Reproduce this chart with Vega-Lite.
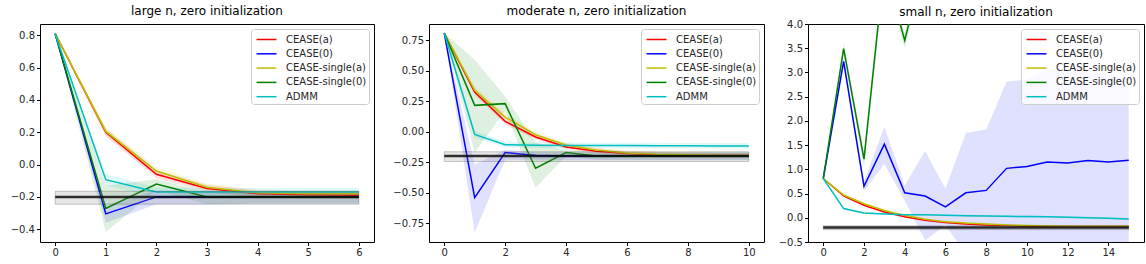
{
  "$schema": "https://vega.github.io/schema/vega-lite/v6.json",
  "padding": {"left": 0, "top": 4, "right": 0, "bottom": 0},
  "background": "white",
  "datasets": {
    "series": [
      {"p":1,"s":"CEASE(a)","x":0,"y":0.81,"lo":0.81,"hi":0.81},
      {"p":1,"s":"CEASE(a)","x":1,"y":0.2,"lo":0.175,"hi":0.225},
      {"p":1,"s":"CEASE(a)","x":2,"y":-0.06,"lo":-0.085,"hi":-0.035},
      {"p":1,"s":"CEASE(a)","x":3,"y":-0.148,"lo":-0.17,"hi":-0.125},
      {"p":1,"s":"CEASE(a)","x":4,"y":-0.18,"lo":-0.205,"hi":-0.16},
      {"p":1,"s":"CEASE(a)","x":5,"y":-0.186,"lo":-0.21,"hi":-0.165},
      {"p":1,"s":"CEASE(a)","x":6,"y":-0.19,"lo":-0.215,"hi":-0.17},
      {"p":1,"s":"CEASE(0)","x":0,"y":0.81,"lo":0.81,"hi":0.81},
      {"p":1,"s":"CEASE(0)","x":1,"y":-0.305,"lo":-0.36,"hi":-0.25},
      {"p":1,"s":"CEASE(0)","x":2,"y":-0.2,"lo":-0.245,"hi":-0.16},
      {"p":1,"s":"CEASE(0)","x":3,"y":-0.2,"lo":-0.245,"hi":-0.17},
      {"p":1,"s":"CEASE(0)","x":4,"y":-0.2,"lo":-0.24,"hi":-0.17},
      {"p":1,"s":"CEASE(0)","x":5,"y":-0.2,"lo":-0.24,"hi":-0.17},
      {"p":1,"s":"CEASE(0)","x":6,"y":-0.2,"lo":-0.24,"hi":-0.17},
      {"p":1,"s":"CEASE-single(a)","x":0,"y":0.81,"lo":0.81,"hi":0.81},
      {"p":1,"s":"CEASE-single(a)","x":1,"y":0.205,"lo":0.18,"hi":0.23},
      {"p":1,"s":"CEASE-single(a)","x":2,"y":-0.04,"lo":-0.065,"hi":-0.015},
      {"p":1,"s":"CEASE-single(a)","x":3,"y":-0.14,"lo":-0.16,"hi":-0.12},
      {"p":1,"s":"CEASE-single(a)","x":4,"y":-0.175,"lo":-0.2,"hi":-0.155},
      {"p":1,"s":"CEASE-single(a)","x":5,"y":-0.18,"lo":-0.2,"hi":-0.16},
      {"p":1,"s":"CEASE-single(a)","x":6,"y":-0.18,"lo":-0.2,"hi":-0.16},
      {"p":1,"s":"CEASE-single(0)","x":0,"y":0.81,"lo":0.81,"hi":0.81},
      {"p":1,"s":"CEASE-single(0)","x":1,"y":-0.272,"lo":-0.417,"hi":-0.13},
      {"p":1,"s":"CEASE-single(0)","x":2,"y":-0.12,"lo":-0.16,"hi":-0.09},
      {"p":1,"s":"CEASE-single(0)","x":3,"y":-0.2,"lo":-0.245,"hi":-0.17},
      {"p":1,"s":"CEASE-single(0)","x":4,"y":-0.2,"lo":-0.24,"hi":-0.17},
      {"p":1,"s":"CEASE-single(0)","x":5,"y":-0.2,"lo":-0.24,"hi":-0.17},
      {"p":1,"s":"CEASE-single(0)","x":6,"y":-0.2,"lo":-0.24,"hi":-0.17},
      {"p":1,"s":"ADMM","x":0,"y":0.81,"lo":0.81,"hi":0.81},
      {"p":1,"s":"ADMM","x":1,"y":-0.093,"lo":-0.13,"hi":-0.06},
      {"p":1,"s":"ADMM","x":2,"y":-0.17,"lo":-0.2,"hi":-0.14},
      {"p":1,"s":"ADMM","x":3,"y":-0.17,"lo":-0.195,"hi":-0.145},
      {"p":1,"s":"ADMM","x":4,"y":-0.17,"lo":-0.195,"hi":-0.145},
      {"p":1,"s":"ADMM","x":5,"y":-0.17,"lo":-0.195,"hi":-0.145},
      {"p":1,"s":"ADMM","x":6,"y":-0.17,"lo":-0.195,"hi":-0.145},

      {"p":2,"s":"CEASE(a)","x":0,"y":0.81,"lo":0.81,"hi":0.81},
      {"p":2,"s":"CEASE(a)","x":1,"y":0.326,"lo":0.3,"hi":0.35},
      {"p":2,"s":"CEASE(a)","x":2,"y":0.085,"lo":0.06,"hi":0.11},
      {"p":2,"s":"CEASE(a)","x":3,"y":-0.044,"lo":-0.065,"hi":-0.02},
      {"p":2,"s":"CEASE(a)","x":4,"y":-0.126,"lo":-0.145,"hi":-0.105},
      {"p":2,"s":"CEASE(a)","x":5,"y":-0.16,"lo":-0.18,"hi":-0.14},
      {"p":2,"s":"CEASE(a)","x":6,"y":-0.18,"lo":-0.2,"hi":-0.16},
      {"p":2,"s":"CEASE(a)","x":7,"y":-0.19,"lo":-0.21,"hi":-0.17},
      {"p":2,"s":"CEASE(a)","x":8,"y":-0.195,"lo":-0.215,"hi":-0.175},
      {"p":2,"s":"CEASE(a)","x":9,"y":-0.195,"lo":-0.215,"hi":-0.175},
      {"p":2,"s":"CEASE(a)","x":10,"y":-0.195,"lo":-0.215,"hi":-0.175},
      {"p":2,"s":"CEASE(0)","x":0,"y":0.81,"lo":0.81,"hi":0.81},
      {"p":2,"s":"CEASE(0)","x":1,"y":-0.542,"lo":-0.83,"hi":-0.27},
      {"p":2,"s":"CEASE(0)","x":2,"y":-0.172,"lo":-0.23,"hi":-0.15},
      {"p":2,"s":"CEASE(0)","x":3,"y":-0.195,"lo":-0.23,"hi":-0.17},
      {"p":2,"s":"CEASE(0)","x":4,"y":-0.2,"lo":-0.235,"hi":-0.17},
      {"p":2,"s":"CEASE(0)","x":5,"y":-0.2,"lo":-0.235,"hi":-0.17},
      {"p":2,"s":"CEASE(0)","x":6,"y":-0.2,"lo":-0.235,"hi":-0.17},
      {"p":2,"s":"CEASE(0)","x":7,"y":-0.2,"lo":-0.235,"hi":-0.17},
      {"p":2,"s":"CEASE(0)","x":8,"y":-0.2,"lo":-0.235,"hi":-0.17},
      {"p":2,"s":"CEASE(0)","x":9,"y":-0.2,"lo":-0.235,"hi":-0.17},
      {"p":2,"s":"CEASE(0)","x":10,"y":-0.2,"lo":-0.235,"hi":-0.17},
      {"p":2,"s":"CEASE-single(a)","x":0,"y":0.81,"lo":0.81,"hi":0.81},
      {"p":2,"s":"CEASE-single(a)","x":1,"y":0.34,"lo":0.31,"hi":0.37},
      {"p":2,"s":"CEASE-single(a)","x":2,"y":0.12,"lo":0.09,"hi":0.15},
      {"p":2,"s":"CEASE-single(a)","x":3,"y":-0.025,"lo":-0.05,"hi":0.0},
      {"p":2,"s":"CEASE-single(a)","x":4,"y":-0.11,"lo":-0.13,"hi":-0.09},
      {"p":2,"s":"CEASE-single(a)","x":5,"y":-0.15,"lo":-0.17,"hi":-0.13},
      {"p":2,"s":"CEASE-single(a)","x":6,"y":-0.175,"lo":-0.195,"hi":-0.155},
      {"p":2,"s":"CEASE-single(a)","x":7,"y":-0.186,"lo":-0.205,"hi":-0.165},
      {"p":2,"s":"CEASE-single(a)","x":8,"y":-0.19,"lo":-0.21,"hi":-0.17},
      {"p":2,"s":"CEASE-single(a)","x":9,"y":-0.195,"lo":-0.215,"hi":-0.175},
      {"p":2,"s":"CEASE-single(a)","x":10,"y":-0.195,"lo":-0.215,"hi":-0.175},
      {"p":2,"s":"CEASE-single(0)","x":0,"y":0.81,"lo":0.81,"hi":0.81},
      {"p":2,"s":"CEASE-single(0)","x":1,"y":0.216,"lo":-0.17,"hi":0.59},
      {"p":2,"s":"CEASE-single(0)","x":2,"y":0.23,"lo":0.17,"hi":0.29},
      {"p":2,"s":"CEASE-single(0)","x":3,"y":-0.3,"lo":-0.46,"hi":-0.09},
      {"p":2,"s":"CEASE-single(0)","x":4,"y":-0.172,"lo":-0.2,"hi":-0.15},
      {"p":2,"s":"CEASE-single(0)","x":5,"y":-0.2,"lo":-0.23,"hi":-0.17},
      {"p":2,"s":"CEASE-single(0)","x":6,"y":-0.2,"lo":-0.23,"hi":-0.17},
      {"p":2,"s":"CEASE-single(0)","x":7,"y":-0.2,"lo":-0.23,"hi":-0.17},
      {"p":2,"s":"CEASE-single(0)","x":8,"y":-0.2,"lo":-0.23,"hi":-0.17},
      {"p":2,"s":"CEASE-single(0)","x":9,"y":-0.2,"lo":-0.23,"hi":-0.17},
      {"p":2,"s":"CEASE-single(0)","x":10,"y":-0.2,"lo":-0.23,"hi":-0.17},
      {"p":2,"s":"ADMM","x":0,"y":0.81,"lo":0.81,"hi":0.81},
      {"p":2,"s":"ADMM","x":1,"y":-0.022,"lo":-0.05,"hi":0.005},
      {"p":2,"s":"ADMM","x":2,"y":-0.107,"lo":-0.13,"hi":-0.085},
      {"p":2,"s":"ADMM","x":3,"y":-0.112,"lo":-0.135,"hi":-0.09},
      {"p":2,"s":"ADMM","x":4,"y":-0.113,"lo":-0.136,"hi":-0.09},
      {"p":2,"s":"ADMM","x":5,"y":-0.114,"lo":-0.137,"hi":-0.091},
      {"p":2,"s":"ADMM","x":6,"y":-0.114,"lo":-0.137,"hi":-0.091},
      {"p":2,"s":"ADMM","x":7,"y":-0.115,"lo":-0.138,"hi":-0.092},
      {"p":2,"s":"ADMM","x":8,"y":-0.116,"lo":-0.139,"hi":-0.093},
      {"p":2,"s":"ADMM","x":9,"y":-0.117,"lo":-0.14,"hi":-0.094},
      {"p":2,"s":"ADMM","x":10,"y":-0.118,"lo":-0.141,"hi":-0.095},

      {"p":3,"s":"CEASE(a)","x":0,"y":0.81,"lo":0.81,"hi":0.81},
      {"p":3,"s":"CEASE(a)","x":1,"y":0.45,"lo":0.43,"hi":0.47},
      {"p":3,"s":"CEASE(a)","x":2,"y":0.26,"lo":0.24,"hi":0.28},
      {"p":3,"s":"CEASE(a)","x":3,"y":0.12,"lo":0.1,"hi":0.14},
      {"p":3,"s":"CEASE(a)","x":4,"y":0.02,"lo":0.0,"hi":0.04},
      {"p":3,"s":"CEASE(a)","x":5,"y":-0.05,"lo":-0.07,"hi":-0.03},
      {"p":3,"s":"CEASE(a)","x":6,"y":-0.1,"lo":-0.12,"hi":-0.08},
      {"p":3,"s":"CEASE(a)","x":7,"y":-0.13,"lo":-0.15,"hi":-0.11},
      {"p":3,"s":"CEASE(a)","x":8,"y":-0.15,"lo":-0.17,"hi":-0.13},
      {"p":3,"s":"CEASE(a)","x":9,"y":-0.16,"lo":-0.18,"hi":-0.14},
      {"p":3,"s":"CEASE(a)","x":10,"y":-0.17,"lo":-0.19,"hi":-0.15},
      {"p":3,"s":"CEASE(a)","x":11,"y":-0.18,"lo":-0.2,"hi":-0.16},
      {"p":3,"s":"CEASE(a)","x":12,"y":-0.18,"lo":-0.2,"hi":-0.16},
      {"p":3,"s":"CEASE(a)","x":13,"y":-0.18,"lo":-0.2,"hi":-0.16},
      {"p":3,"s":"CEASE(a)","x":14,"y":-0.18,"lo":-0.2,"hi":-0.16},
      {"p":3,"s":"CEASE(a)","x":15,"y":-0.18,"lo":-0.2,"hi":-0.16},
      {"p":3,"s":"CEASE(0)","x":0,"y":0.81,"lo":0.81,"hi":0.81},
      {"p":3,"s":"CEASE(0)","x":1,"y":3.23,"lo":3.15,"hi":3.31},
      {"p":3,"s":"CEASE(0)","x":2,"y":0.65,"lo":0.55,"hi":0.75},
      {"p":3,"s":"CEASE(0)","x":3,"y":1.52,"lo":1.11,"hi":1.88},
      {"p":3,"s":"CEASE(0)","x":4,"y":0.515,"lo":0.35,"hi":0.66},
      {"p":3,"s":"CEASE(0)","x":5,"y":0.45,"lo":-0.47,"hi":1.38},
      {"p":3,"s":"CEASE(0)","x":6,"y":0.225,"lo":-0.15,"hi":0.6},
      {"p":3,"s":"CEASE(0)","x":7,"y":0.515,"lo":-0.75,"hi":1.75},
      {"p":3,"s":"CEASE(0)","x":8,"y":0.565,"lo":-0.7,"hi":1.82},
      {"p":3,"s":"CEASE(0)","x":9,"y":1.02,"lo":-0.8,"hi":2.81},
      {"p":3,"s":"CEASE(0)","x":10,"y":1.06,"lo":-0.75,"hi":2.85},
      {"p":3,"s":"CEASE(0)","x":11,"y":1.15,"lo":-0.8,"hi":3.07},
      {"p":3,"s":"CEASE(0)","x":12,"y":1.13,"lo":-0.8,"hi":3.05},
      {"p":3,"s":"CEASE(0)","x":13,"y":1.18,"lo":-0.75,"hi":3.0},
      {"p":3,"s":"CEASE(0)","x":14,"y":1.15,"lo":-0.8,"hi":2.95},
      {"p":3,"s":"CEASE(0)","x":15,"y":1.19,"lo":-0.75,"hi":2.9},
      {"p":3,"s":"CEASE-single(a)","x":0,"y":0.81,"lo":0.81,"hi":0.81},
      {"p":3,"s":"CEASE-single(a)","x":1,"y":0.47,"lo":0.45,"hi":0.49},
      {"p":3,"s":"CEASE-single(a)","x":2,"y":0.29,"lo":0.27,"hi":0.31},
      {"p":3,"s":"CEASE-single(a)","x":3,"y":0.15,"lo":0.13,"hi":0.17},
      {"p":3,"s":"CEASE-single(a)","x":4,"y":0.05,"lo":0.03,"hi":0.07},
      {"p":3,"s":"CEASE-single(a)","x":5,"y":-0.03,"lo":-0.05,"hi":-0.01},
      {"p":3,"s":"CEASE-single(a)","x":6,"y":-0.08,"lo":-0.1,"hi":-0.06},
      {"p":3,"s":"CEASE-single(a)","x":7,"y":-0.11,"lo":-0.13,"hi":-0.09},
      {"p":3,"s":"CEASE-single(a)","x":8,"y":-0.13,"lo":-0.15,"hi":-0.11},
      {"p":3,"s":"CEASE-single(a)","x":9,"y":-0.15,"lo":-0.17,"hi":-0.13},
      {"p":3,"s":"CEASE-single(a)","x":10,"y":-0.16,"lo":-0.18,"hi":-0.14},
      {"p":3,"s":"CEASE-single(a)","x":11,"y":-0.17,"lo":-0.19,"hi":-0.15},
      {"p":3,"s":"CEASE-single(a)","x":12,"y":-0.175,"lo":-0.195,"hi":-0.155},
      {"p":3,"s":"CEASE-single(a)","x":13,"y":-0.175,"lo":-0.195,"hi":-0.155},
      {"p":3,"s":"CEASE-single(a)","x":14,"y":-0.175,"lo":-0.195,"hi":-0.155},
      {"p":3,"s":"CEASE-single(a)","x":15,"y":-0.175,"lo":-0.195,"hi":-0.155},
      {"p":3,"s":"CEASE-single(0)","x":0,"y":0.81,"lo":0.81,"hi":0.81},
      {"p":3,"s":"CEASE-single(0)","x":1,"y":3.49,"lo":3.38,"hi":3.6},
      {"p":3,"s":"CEASE-single(0)","x":2,"y":1.21,"lo":1.03,"hi":1.38},
      {"p":3,"s":"CEASE-single(0)","x":3,"y":5.2,"lo":5.0,"hi":5.4},
      {"p":3,"s":"CEASE-single(0)","x":4,"y":3.66,"lo":3.5,"hi":3.8},
      {"p":3,"s":"CEASE-single(0)","x":5,"y":5.36,"lo":5.2,"hi":5.5},
      {"p":3,"s":"ADMM","x":0,"y":0.81,"lo":0.81,"hi":0.81},
      {"p":3,"s":"ADMM","x":1,"y":0.19,"lo":0.17,"hi":0.21},
      {"p":3,"s":"ADMM","x":2,"y":0.1,"lo":0.08,"hi":0.12},
      {"p":3,"s":"ADMM","x":3,"y":0.08,"lo":0.06,"hi":0.1},
      {"p":3,"s":"ADMM","x":4,"y":0.065,"lo":0.045,"hi":0.085},
      {"p":3,"s":"ADMM","x":5,"y":0.06,"lo":0.04,"hi":0.08},
      {"p":3,"s":"ADMM","x":6,"y":0.05,"lo":0.03,"hi":0.07},
      {"p":3,"s":"ADMM","x":7,"y":0.04,"lo":0.02,"hi":0.06},
      {"p":3,"s":"ADMM","x":8,"y":0.035,"lo":0.015,"hi":0.055},
      {"p":3,"s":"ADMM","x":9,"y":0.03,"lo":0.01,"hi":0.05},
      {"p":3,"s":"ADMM","x":10,"y":0.025,"lo":0.005,"hi":0.045},
      {"p":3,"s":"ADMM","x":11,"y":0.02,"lo":0.0,"hi":0.04},
      {"p":3,"s":"ADMM","x":12,"y":0.01,"lo":-0.01,"hi":0.03},
      {"p":3,"s":"ADMM","x":13,"y":0.0,"lo":-0.02,"hi":0.02},
      {"p":3,"s":"ADMM","x":14,"y":-0.01,"lo":-0.03,"hi":0.01},
      {"p":3,"s":"ADMM","x":15,"y":-0.025,"lo":-0.045,"hi":-0.005}
    ],
    "truth": [
      {"p":1,"x0":0,"x1":6,"t":-0.2,"tlo":-0.245,"thi":-0.165},
      {"p":2,"x0":0,"x1":10,"t":-0.2,"tlo":-0.245,"thi":-0.165},
      {"p":3,"x0":0,"x1":15,"t":-0.2,"tlo":-0.245,"thi":-0.165}
    ]
  },
  "hconcat": [
    {
      "title": "large n, zero initialization",
      "width": 334, "height": 218,
      "encoding": {
        "x": {"field": "x", "type": "quantitative", "scale": {"domain": [-0.3, 6.3], "nice": false, "zero": false}, "axis": {"values": [0,1,2,3,4,5,6], "format": "d", "labelOverlap": false}},
        "y": {"field": "y", "type": "quantitative", "scale": {"domain": [-0.479, 0.87], "nice": false, "zero": false}, "axis": {"values": [-0.4,-0.2,0,0.2,0.4,0.6,0.8], "format": ".1f", "labelOverlap": false, "minExtent": 39, "maxExtent": 39}}
      },
      "layer": [
        {"data": {"name": "series"}, "transform": [{"filter": "datum.p == 1"}],
         "mark": {"type": "area", "opacity": 0.12},
         "encoding": {
           "y": {"field": "lo", "type": "quantitative"},
           "y2": {"field": "hi"},
           "color": {"field": "s", "type": "nominal", "scale": {"domain": ["CEASE(a)","CEASE(0)","CEASE-single(a)","CEASE-single(0)","ADMM"], "range": ["#ff0000","#0000ff","#bfbf00","#008000","#00bfbf"]}, "legend": {"title": null}}
         }},
        {"data": {"name": "series"}, "transform": [{"filter": "datum.p == 1"}],
         "mark": {"type": "line", "strokeWidth": 1.5},
         "encoding": {
           "color": {"field": "s", "type": "nominal", "legend": {"title": null}}
         }},
        {"data": {"name": "truth"}, "transform": [{"filter": "datum.p == 1"}],
         "mark": {"type": "rect", "fill": "gray", "fillOpacity": 0.2, "stroke": "black", "strokeOpacity": 0.2, "strokeWidth": 1},
         "encoding": {"x": {"field": "x0", "type": "quantitative"}, "x2": {"field": "x1"}, "y": {"field": "tlo", "type": "quantitative"}, "y2": {"field": "thi"}}},
        {"data": {"name": "truth"}, "transform": [{"filter": "datum.p == 1"}],
         "mark": {"type": "rule", "color": "black", "opacity": 0.8, "strokeWidth": 2.5},
         "encoding": {"x": {"field": "x0", "type": "quantitative"}, "x2": {"field": "x1"}, "y": {"field": "t", "type": "quantitative"}}}
      ]
    },
    {
      "title": "moderate n, zero initialization",
      "width": 335, "height": 218,
      "encoding": {
        "x": {"field": "x", "type": "quantitative", "scale": {"domain": [-0.5, 10.5], "nice": false, "zero": false}, "axis": {"values": [0,2,4,6,8,10], "format": "d", "labelOverlap": false}},
        "y": {"field": "y", "type": "quantitative", "scale": {"domain": [-0.906, 0.884], "nice": false, "zero": false}, "axis": {"values": [-0.75,-0.5,-0.25,0,0.25,0.5,0.75], "format": ".2f", "labelOverlap": false, "minExtent": 48, "maxExtent": 48}}
      },
      "layer": [
        {"data": {"name": "series"}, "transform": [{"filter": "datum.p == 2"}],
         "mark": {"type": "area", "opacity": 0.12},
         "encoding": {
           "y": {"field": "lo", "type": "quantitative"},
           "y2": {"field": "hi"},
           "color": {"field": "s", "type": "nominal", "scale": {"domain": ["CEASE(a)","CEASE(0)","CEASE-single(a)","CEASE-single(0)","ADMM"], "range": ["#ff0000","#0000ff","#bfbf00","#008000","#00bfbf"]}, "legend": {"title": null}}
         }},
        {"data": {"name": "series"}, "transform": [{"filter": "datum.p == 2"}],
         "mark": {"type": "line", "strokeWidth": 1.5},
         "encoding": {
           "color": {"field": "s", "type": "nominal", "legend": {"title": null}}
         }},
        {"data": {"name": "truth"}, "transform": [{"filter": "datum.p == 2"}],
         "mark": {"type": "rect", "fill": "gray", "fillOpacity": 0.2, "stroke": "black", "strokeOpacity": 0.2, "strokeWidth": 1},
         "encoding": {"x": {"field": "x0", "type": "quantitative"}, "x2": {"field": "x1"}, "y": {"field": "tlo", "type": "quantitative"}, "y2": {"field": "thi"}}},
        {"data": {"name": "truth"}, "transform": [{"filter": "datum.p == 2"}],
         "mark": {"type": "rule", "color": "black", "opacity": 0.8, "strokeWidth": 2.5},
         "encoding": {"x": {"field": "x0", "type": "quantitative"}, "x2": {"field": "x1"}, "y": {"field": "t", "type": "quantitative"}}}
      ]
    },
    {
      "title": {"text": "small n, zero initialization", "offset": 0},
      "width": 336, "height": 218,
      "encoding": {
        "x": {"field": "x", "type": "quantitative", "scale": {"domain": [-0.75, 15.75], "nice": false, "zero": false}, "axis": {"values": [0,2,4,6,8,10,12,14], "format": "d", "labelOverlap": false}},
        "y": {"field": "y", "type": "quantitative", "scale": {"domain": [-0.5, 4.0], "nice": false, "zero": false}, "axis": {"values": [-0.5,0,0.5,1,1.5,2,2.5,3,3.5,4], "format": ".1f", "labelOverlap": false, "minExtent": 37, "maxExtent": 37}}
      },
      "layer": [
        {"data": {"name": "series"}, "transform": [{"filter": "datum.p == 3"}],
         "mark": {"type": "area", "opacity": 0.12, "clip": true},
         "encoding": {
           "y": {"field": "lo", "type": "quantitative"},
           "y2": {"field": "hi"},
           "color": {"field": "s", "type": "nominal", "scale": {"domain": ["CEASE(a)","CEASE(0)","CEASE-single(a)","CEASE-single(0)","ADMM"], "range": ["#ff0000","#0000ff","#bfbf00","#008000","#00bfbf"]}, "legend": {"title": null}}
         }},
        {"data": {"name": "series"}, "transform": [{"filter": "datum.p == 3"}],
         "mark": {"type": "line", "strokeWidth": 1.5, "clip": true},
         "encoding": {
           "color": {"field": "s", "type": "nominal", "legend": {"title": null}}
         }},
        {"data": {"name": "truth"}, "transform": [{"filter": "datum.p == 3"}],
         "mark": {"type": "rect", "fill": "gray", "fillOpacity": 0.2, "stroke": "black", "strokeOpacity": 0.2, "strokeWidth": 1},
         "encoding": {"x": {"field": "x0", "type": "quantitative"}, "x2": {"field": "x1"}, "y": {"field": "tlo", "type": "quantitative"}, "y2": {"field": "thi"}}},
        {"data": {"name": "truth"}, "transform": [{"filter": "datum.p == 3"}],
         "mark": {"type": "rule", "color": "black", "opacity": 0.8, "strokeWidth": 2.5},
         "encoding": {"x": {"field": "x0", "type": "quantitative"}, "x2": {"field": "x1"}, "y": {"field": "t", "type": "quantitative"}}}
      ]
    }
  ],
  "resolve": {"legend": {"color": "independent"}},
  "spacing": 5,
  "config": {
    "font": "DejaVu Sans",
    "view": {"stroke": "black", "strokeWidth": 1},
    "axis": {"domain": false, "grid": false, "tickColor": "black", "tickSize": 3.5, "labelFontSize": 10, "labelColor": "#262626", "labelFont": "DejaVu Sans", "labelPadding": 2, "title": null, "labelOverlap": false, "labelFlush": false},
    "title": {"fontSize": 12, "fontWeight": "normal", "font": "DejaVu Sans", "offset": 6, "frame": "group", "anchor": "middle", "color": "black"},
    "legend": {"orient": "top-right", "offset": 5, "padding": 2, "fillColor": "rgba(255,255,255,0.8)", "strokeColor": "#cccccc", "cornerRadius": 3, "symbolType": "M-1.33,0L1.33,0", "symbolStrokeWidth": 1.5, "symbolSize": 225, "symbolOffset": 5, "labelFontSize": 10, "labelFont": "DejaVu Sans", "labelColor": "#262626", "labelOffset": 11, "rowPadding": 0.3, "symbolOpacity": 1, "symbolFillColor": "transparent"}
  }
}
